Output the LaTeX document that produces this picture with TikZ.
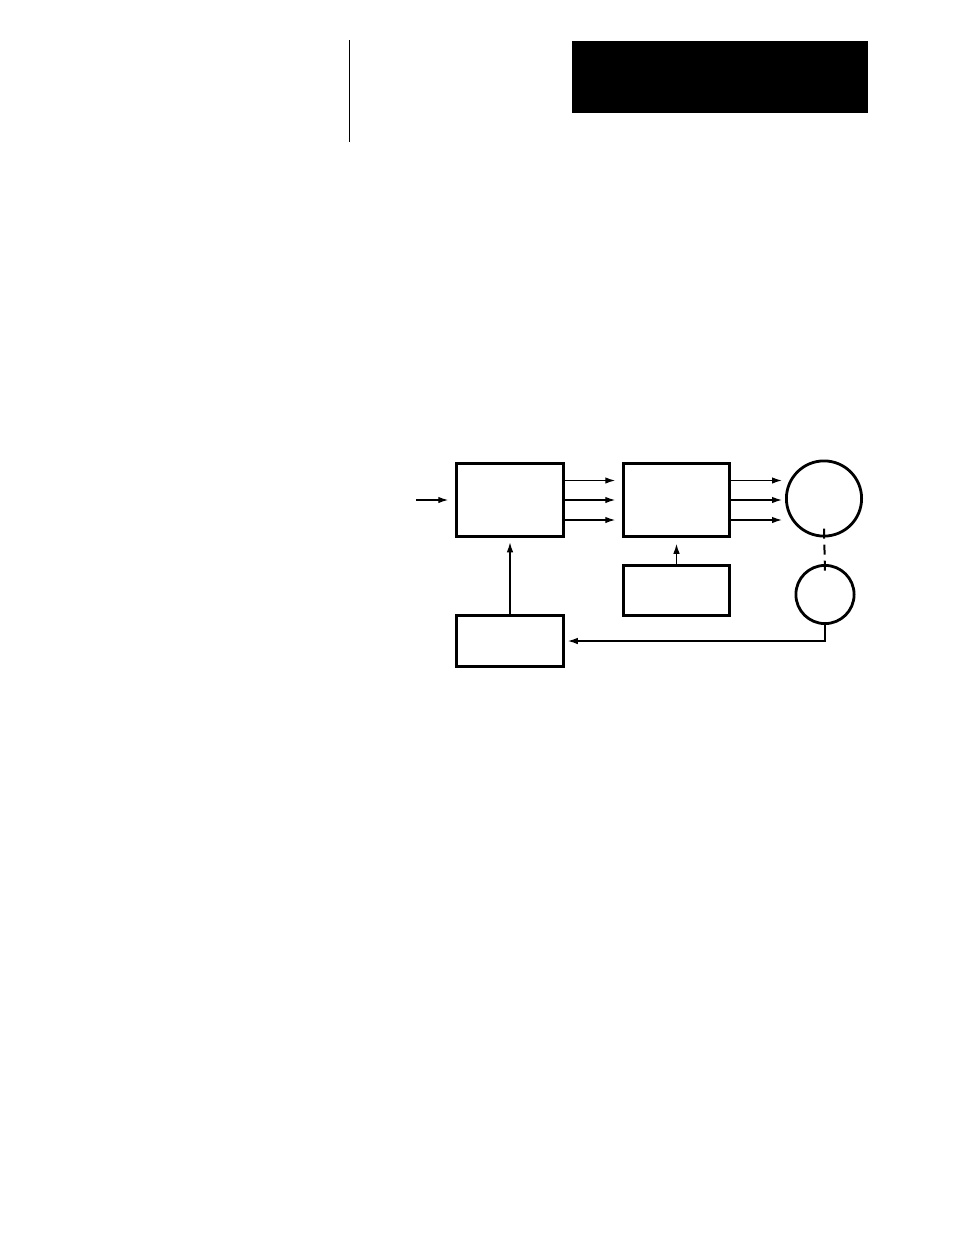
\documentclass[tikz,border=0pt]{standalone}
\usetikzlibrary{arrows.meta}
\begin{document}
\begin{tikzpicture}[x=1pt,y=-1pt,
  blk/.style={draw,line width=2.8pt,rectangle,inner sep=0pt,outer sep=0pt},
  rnd/.style={draw,line width=2.8pt,circle,inner sep=0pt,outer sep=0pt},
  arr/.style={line width=1.3pt,-{Latex[length=10pt,width=6.5pt]}},
  thin/.style={line width=1.3pt}]
\fill[white] (0,0) rectangle (954,1235);
\useasboundingbox (0,0) rectangle (954,1235);
% header
\coordinate (vt) at (349.3,40);
\coordinate (vb) at (349.3,142);
\draw[thin] (vt) -- (vb);
\node[fill=black,inner sep=0pt,outer sep=0pt,minimum width=296pt,minimum height=72pt] (hdr) at (720,77) {};
% blocks
\node[blk,minimum width=107.5pt,minimum height=73.5pt] (A) at (510,500) {};
\node[blk,minimum width=106.5pt,minimum height=73.5pt] (B) at (676.5,500) {};
\node[blk,minimum width=106.5pt,minimum height=50.5pt] (C) at (676.5,590.5) {};
\node[blk,minimum width=107.5pt,minimum height=51.5pt] (D) at (510,641) {};
\node[rnd,minimum size=75.2pt] (M) at (824,498.5) {};
\node[rnd,minimum size=58.2pt] (T) at (825,594.5) {};
\coordinate (in) at (416,500);
\coordinate (cin) at (782,499);
% connectors
\draw[arr,shorten >=8pt] (in) -- (A.west);
\foreach \s in {19.5,0,-20}{
  \draw[arr,shorten >=8pt] ([yshift=\s pt]A.east) -- ([yshift=\s pt]B.west);
  \draw[arr] ([yshift=\s pt]B.east) -- ([yshift=\s pt]B.east -| cin);
}
\draw[arr,shorten >=5.5pt] (D.north) -- (A.south);
\draw[arr,shorten >=7pt] (C.north) -- (B.south);
\draw[arr,shorten >=4pt] (T.south) |- (D.east);
\draw[line width=2pt,dash pattern=on 10pt off 6pt] ([yshift=7.5pt]M.south) -- ([yshift=-7pt]T.north);
\end{tikzpicture}
\end{document}
